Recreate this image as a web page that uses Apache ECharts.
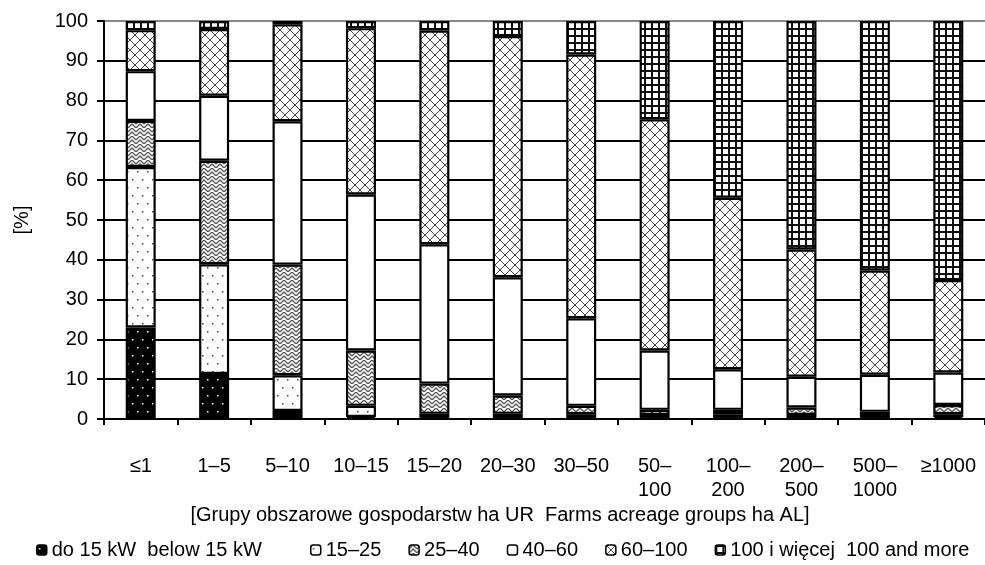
<!DOCTYPE html>
<html>
<head>
<meta charset="utf-8">
<script src="https://cdn.jsdelivr.net/npm/echarts@6/dist/echarts.min.js"></script>
<style>
html,body{margin:0;padding:0;background:#fff;}
#chart{width:985px;height:565px;}
</style>
</head>
<body>
<div id="chart"></div>
<script>
// ---- data ----
const categories = ['≤1', '1–5', '5–10', '10–15', '15–20', '20–30', '30–50', '50–\n100', '100–\n200', '200–\n500', '500–\n1000', '≥1000'];
const seriesNames = ['do 15 kW  below 15 kW', '15–25', '25–40', '40–60', '60–100', '100 i więcej  100 and more'];
const below15 = [23.0, 11.3, 2.0, 0.5, 0.3, 0.3, 0.3, 0.3, 0.3, 0.3, 0.3, 0.5];
const s15_25 = [40.3, 27.6, 9.0, 2.8, 1.0, 1.0, 0.9, 0.7, 0.9, 0.7, 0.7, 0.7];
const s25_40 = [11.6, 26.0, 27.8, 13.9, 7.6, 4.6, 2.1, 1.3, 1.1, 1.9, 0.8, 2.3];
const s40_60 = [12.5, 16.3, 36.0, 39.2, 35.0, 29.7, 22.0, 14.9, 10.2, 7.7, 9.3, 8.2];
const s60_100 = [10.3, 16.8, 24.4, 41.8, 53.7, 60.6, 66.3, 58.1, 43.1, 32.0, 26.2, 23.2];
const s100plus = [2.3, 2.0, 0.8, 1.8, 2.4, 3.8, 8.4, 24.7, 44.4, 57.4, 62.7, 65.1];
const yTicks = [0, 10, 20, 30, 40, 50, 60, 70, 80, 90, 100];
const xTitle = '[Grupy obszarowe gospodarstw ha UR  Farms acreage groups ha AL]';
const yTitle = '[%]';

// ---- patterns ----
function pat(w, h, draw) {
  const c = document.createElement('canvas');
  c.width = w; c.height = h;
  const g = c.getContext('2d');
  draw(g, w, h);
  return { image: c, repeat: 'repeat' };
}
const FONT = '"Liberation Sans", Arial, sans-serif';
const FS = 20;
const pBlackDots = pat(10, 16, (g) => {
  g.fillStyle = '#000'; g.fillRect(0, 0, 10, 16);
  g.fillStyle = '#fff'; g.fillRect(2, 3, 1.5, 1.5); g.fillRect(7, 11, 1.5, 1.5);
});
const pWhiteDots = pat(10, 16, (g) => {
  g.fillStyle = '#fff'; g.fillRect(0, 0, 10, 16);
  g.fillStyle = '#444'; g.fillRect(2, 3, 1.5, 1.5); g.fillRect(7, 11, 1.5, 1.5);
});
const pWeave = pat(8, 8, (g) => {
  g.fillStyle = '#fff'; g.fillRect(0, 0, 8, 8);
  g.strokeStyle = '#555'; g.lineWidth = 1.3;
  g.beginPath();
  g.moveTo(0, 4); g.lineTo(4, 0); g.lineTo(8, 4);
  g.moveTo(0, 8); g.lineTo(4, 4); g.lineTo(8, 8);
  g.stroke();
});
const pWhite = '#fff';
const pDiamond = pat(10, 10, (g) => {
  g.fillStyle = '#fff'; g.fillRect(0, 0, 10, 10);
  g.strokeStyle = '#444'; g.lineWidth = 1;
  g.beginPath();
  g.moveTo(0, 0); g.lineTo(10, 10);
  g.moveTo(10, 0); g.lineTo(0, 10);
  g.stroke();
});
const pGrid = pat(7, 7, (g) => {
  g.fillStyle = '#111'; g.fillRect(0, 0, 7, 7);
  g.fillStyle = '#fff'; g.fillRect(2, 2, 5, 5);
});
const fills = [pBlackDots, pWhiteDots, pWeave, pWhite, pDiamond, pGrid];
const values = [below15, s15_25, s25_40, s40_60, s60_100, s100plus];

const chart = echarts.init(document.getElementById('chart'), null, { renderer: 'canvas' });
const splitColors = yTicks.map((t, i) => (i === yTicks.length - 1 ? '#888' : '#000'));
const legendCommon = {
  itemWidth: 10, itemHeight: 10,
  textStyle: { color: '#000', fontSize: FS, fontFamily: FONT },
  itemStyle: { borderColor: '#000', borderWidth: 1.5 },
  selectedMode: false
};

const option = {
  animation: false,
  backgroundColor: '#fff',
  textStyle: { fontFamily: FONT, color: '#000' },
  grid: { left: 104, right: 0, top: 21, bottom: 146, containLabel: false },
  xAxis: {
    type: 'category',
    data: categories,
    axisLine: { lineStyle: { color: '#000', width: 2 } },
    axisTick: { show: true, length: 6, lineStyle: { color: '#000', width: 2 } },
    axisLabel: { color: '#000', fontSize: FS, fontFamily: FONT, margin: 35, lineHeight: 24, interval: 0 },
    splitLine: { show: false }
  },
  yAxis: {
    type: 'value',
    min: 0, max: 100, interval: 10,
    name: yTitle,
    nameLocation: 'middle',
    nameRotate: 90,
    nameGap: 72,
    nameTextStyle: { color: '#000', fontSize: FS, fontFamily: FONT },
    axisLine: { show: true, lineStyle: { color: '#000', width: 2 } },
    axisTick: { show: true, length: 7, lineStyle: { color: '#000', width: 2 } },
    axisLabel: { color: '#000', fontSize: FS, fontFamily: FONT, margin: 16 },
    splitLine: { show: true, lineStyle: { color: splitColors, width: 2 } }
  },
  legend: [
    Object.assign({ data: [seriesNames[0]], left: 31, top: 535 }, legendCommon),
    Object.assign({ data: seriesNames.slice(1), left: 305, top: 535, itemGap: 27 }, legendCommon)
  ],
  graphic: [
    {
      type: 'text', x: 500, y: 515,
      style: { text: xTitle, fill: '#000', font: FS + 'px ' + FONT, textAlign: 'center', textVerticalAlign: 'middle' }
    }
  ],
  series: seriesNames.map((name, i) => ({
    name: name,
    type: 'bar',
    stack: 'total',
    barWidth: 30,
    data: values[i],
    itemStyle: { color: fills[i], borderColor: '#000', borderWidth: 2.2 },
    emphasis: { disabled: true }
  }))
};
chart.setOption(option);
</script>
</body>
</html>
